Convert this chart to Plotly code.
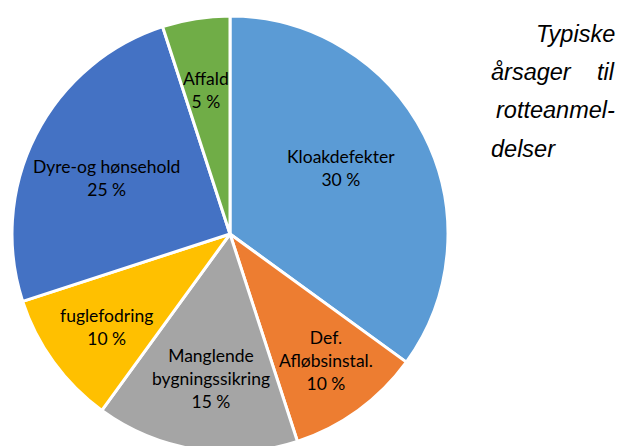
import math
import plotly.graph_objects as go

categories = ["Kloakdefekter", "Def. Afløbsinstal.", "Manglende bygningssikring",
              "fuglefodring", "Dyre-og hønsehold", "Affald"]
display_labels = ["Kloakdefekter", "Def.<br>Afløbsinstal.", "Manglende<br>bygningssikring",
                  "fuglefodring", "Dyre-og hønsehold", "Affald"]
slice_values = [35, 10, 15, 10, 25, 5]
shown_percent = ["30 %", "10 %", "15 %", "10 %", "25 %", "5 %"]
colors = ["#5B9BD5", "#ED7D31", "#A5A5A5", "#FFC000", "#4472C4", "#70AD47"]

# label placement (fraction of radius) per slice
label_radius = [0.59, 0.73, 0.67, 0.71, 0.62, 0.67]
label_angle_frac = 0.47

W, H = 622, 460
CX, CY, R = 230, 234, 218

fig = go.Figure(go.Pie(
    labels=categories,
    values=slice_values,
    textinfo="none",
    sort=False,
    direction="clockwise",
    rotation=0,
    marker=dict(colors=colors, line=dict(color="white", width=3)),
    domain=dict(x=[(CX - R) / W, (CX + R) / W], y=[1 - (CY + R) / H, 1 - (CY - R) / H]),
    showlegend=False,
    hoverinfo="skip",
))

# in-slice labels, positioned from the cumulative values
total = sum(slice_values)
cum = 0
for lab, pct, v, rf in zip(display_labels, shown_percent, slice_values, label_radius):
    ang = 2 * math.pi * (cum + label_angle_frac * v) / total
    cum += v
    px = CX + rf * R * math.sin(ang)
    py = CY - rf * R * math.cos(ang)
    fig.add_annotation(text=f"{lab}<br>{pct}", x=px / W, y=1 - py / H,
                       xref="paper", yref="paper", xanchor="center", yanchor="middle",
                       showarrow=False,
                       font=dict(family="Lato", size=17.5, color="black"))

side_font = dict(family="Liberation Sans", size=23.5, color="black")
side_text = [
    ("<i>Typiske</i>", 617, 42, "right"),
    ("<i>årsager</i>", 489, 80, "left"),
    ("<i>til</i>", 617, 80, "right"),
    ("<i>rotteanmel-</i>", 617, 118, "right"),
    ("<i>delser</i>", 489, 157, "left"),
]
for txt, x, y, anchor in side_text:
    fig.add_annotation(text=txt, x=x / W, y=1 - y / H, xref="paper", yref="paper",
                       xanchor=anchor, yanchor="bottom", showarrow=False,
                       font=side_font, yshift=-7)

fig.update_layout(width=W, height=H, margin=dict(l=0, r=0, t=0, b=0),
                  paper_bgcolor="white", plot_bgcolor="white")
fig.write_html("out.html", config={"displayModeBar": False},
               post_script="document.body.style.margin='0';document.body.style.overflow='hidden';document.documentElement.style.overflow='hidden';")
